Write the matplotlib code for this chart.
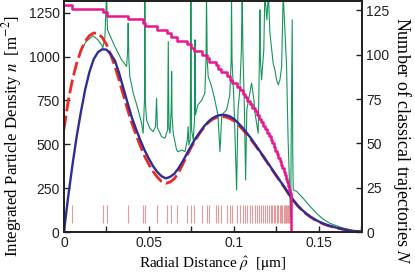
import numpy as np
import matplotlib
matplotlib.use("Agg")
import matplotlib.pyplot as plt
from matplotlib.ticker import MultipleLocator, FormatStrFormatter

plt.rcParams['mathtext.fontset'] = 'stix'
plt.rcParams['font.family'] = 'Liberation Sans'

# blue solid curve
rho_blue = [0.0, 0.0025, 0.005, 0.0075, 0.01, 0.0125, 0.015, 0.0175, 0.02, 0.0225,
            0.025, 0.0275, 0.03, 0.0325, 0.035, 0.0375, 0.04, 0.0425, 0.045, 0.0475,
            0.05, 0.0525, 0.055, 0.0575, 0.06, 0.0625, 0.065, 0.0675, 0.07, 0.0725,
            0.075, 0.0775, 0.08, 0.0825, 0.085, 0.0875, 0.09, 0.0925, 0.095, 0.0975,
            0.1, 0.1025, 0.105, 0.1075, 0.11, 0.1125, 0.115, 0.1175, 0.12, 0.1225,
            0.125, 0.1275, 0.13, 0.1325, 0.135, 0.1375, 0.14, 0.1425, 0.145, 0.1475,
            0.15, 0.1525, 0.155, 0.16, 0.165, 0.17, 0.175]
n_blue = [0, 201, 380, 544, 685, 812, 912, 985, 1025, 1042,
          1040, 1015, 977, 905, 820, 735, 652, 585, 523, 466,
          418, 375, 342, 318, 306, 315, 333, 365, 405, 450,
          494, 535, 570, 603, 630, 650, 662, 668, 667, 660,
          645, 622, 596, 566, 535, 500, 465, 430, 394, 358,
          322, 287, 253, 215, 182, 152, 127, 106, 88, 73,
          60, 49, 40, 26, 15, 7, 2]

# red dashed curve
rho_red = [0.0, 0.0025, 0.005, 0.0075, 0.01, 0.0125, 0.015, 0.0175, 0.02, 0.0225,
           0.025, 0.0275, 0.03, 0.0325, 0.035, 0.0375, 0.04, 0.0425, 0.045, 0.0475,
           0.05, 0.0525, 0.055, 0.0575, 0.06, 0.0625, 0.065, 0.0675, 0.07, 0.0725,
           0.075, 0.0775, 0.08, 0.0825, 0.085, 0.0875, 0.09, 0.0925, 0.095, 0.0975,
           0.1, 0.1025, 0.105, 0.1075, 0.11, 0.1125, 0.115, 0.1175, 0.12, 0.1225,
           0.125, 0.1275, 0.13, 0.1325, 0.135, 0.1375, 0.14, 0.1425, 0.145, 0.1475,
           0.15, 0.1525, 0.155, 0.16, 0.165, 0.17, 0.175]
n_red = [585, 745, 868, 962, 1035, 1088, 1120, 1135, 1132, 1110,
         1070, 1012, 945, 865, 780, 697, 620, 552, 490, 432,
         385, 345, 312, 288, 278, 285, 305, 340, 388, 438,
         485, 527, 565, 598, 625, 643, 654, 658, 656, 648,
         634, 612, 587, 558, 528, 495, 461, 427, 391, 355,
         320, 285, 250, 213, 180, 150, 125, 104, 86, 71,
         58, 47, 38, 24, 14, 6, 2]

# green (classical) density with caustic spikes
rho_green = [0.0094, 0.0129, 0.0171, 0.0200, 0.0222, 0.0229, 0.0241, 0.0251, 0.0256, 0.0261,
             0.0282, 0.0300, 0.0339, 0.0369, 0.0375, 0.0378, 0.0382, 0.0388, 0.0408, 0.0437,
             0.0457, 0.0466, 0.0474, 0.0476, 0.0479, 0.0486, 0.0506, 0.0525, 0.0539, 0.0545,
             0.0550, 0.0575, 0.0594, 0.0610, 0.0614, 0.0618, 0.0624, 0.0631, 0.0634, 0.0636,
             0.0643, 0.0663, 0.0672, 0.0694, 0.0712, 0.0726, 0.0731, 0.0735, 0.0743, 0.0747,
             0.0751, 0.0761, 0.0768, 0.0771, 0.0774, 0.0788, 0.0812, 0.0829, 0.0836, 0.0839,
             0.0843, 0.0849, 0.0869, 0.0888, 0.0906, 0.0918, 0.0929, 0.0957, 0.0976, 0.0984,
             0.0986, 0.0989, 0.1000, 0.1016, 0.1024, 0.1035, 0.1044, 0.1049, 0.1053, 0.1062,
             0.1069, 0.1076, 0.1104, 0.1118, 0.1124, 0.1143, 0.1150, 0.1153, 0.1156, 0.1163,
             0.1176, 0.1182, 0.1194, 0.1203, 0.1212, 0.1231, 0.1241, 0.1251, 0.1261, 0.1271,
             0.1281, 0.1290, 0.1300, 0.1310, 0.1319, 0.1329, 0.1334, 0.1338, 0.1343, 0.1346,
             0.1349, 0.1369, 0.1408, 0.1447, 0.1486, 0.1524, 0.1565, 0.1624, 0.1682, 0.1751]
n_green = [1027, 1084, 1119, 1096, 1067, 1050, 1107, 1360, 1153, 1143,
           1096, 1058, 982, 944, 1039, 1191, 982, 886, 792, 696,
           620, 563, 753, 1360, 753, 639, 592, 572, 601, 763,
           594, 544, 535, 582, 1086, 594, 563, 696, 915, 668,
           563, 468, 458, 468, 458, 525, 601, 497, 525, 1360,
           582, 525, 639, 1096, 668, 725, 753, 792, 982, 1360,
           982, 886, 829, 753, 668, 458, 668, 696, 782, 982,
           1360, 982, 753, 240, 696, 810, 1039, 1360, 1039, 696,
           297, 696, 849, 753, 679, 563, 982, 1267, 982, 868,
           1039, 1360, 1210, 1360, 1134, 963, 925, 868, 839, 868,
           944, 1360, 1153, 944, 525, 221, 87, 639, 1210, 468,
           240, 232, 192, 148, 107, 74, 50, 29, 11, 2]

# classical turning points (rug) and trajectory count N
turning = [0.0045, 0.0228, 0.0251, 0.0378, 0.0466, 0.0478, 0.0545, 0.0608, 0.0629, 0.0668,
           0.0722, 0.0745, 0.0765, 0.0814, 0.0843, 0.0853, 0.0892, 0.0908, 0.0922, 0.0961,
           0.0976, 0.0990, 0.1019, 0.1034, 0.1051, 0.1065, 0.1078, 0.1092, 0.1108, 0.1124,
           0.1135, 0.1147, 0.1159, 0.1172, 0.1182, 0.1194, 0.1206, 0.1216, 0.1225, 0.1235,
           0.1243, 0.1253, 0.1262, 0.1270, 0.1278, 0.1285, 0.1292, 0.1299, 0.1305, 0.1311,
           0.1317, 0.1323, 0.1329]
rho_step = [0.0] + turning + [0.1336, 0.175]
n_traj = [128, 126, 124, 122, 120, 118, 116, 114, 112, 110, 108,
          106, 104, 102, 100, 98, 96, 94, 92, 90, 88,
          86, 84, 82, 80, 78, 76, 74, 72, 70, 68,
          66, 64, 62, 60, 58, 56, 54, 52, 50, 48,
          46, 44, 42, 40, 38, 36, 34, 32, 30, 28,
          26, 24, 22, 0, 0]

fig = plt.figure(figsize=(4.15, 2.74), dpi=100)
ax = fig.add_axes([0.154, 0.153, 0.718, 0.842])
ax2 = ax.twinx()

ax.vlines(turning, 50, 155, color='#e39a9a', lw=0.8)
ax.plot(rho_green, n_green, color='#14965a', lw=0.8)
ax.plot(rho_red, n_red, color='#ee2a24', lw=2.0, dashes=(5, 1.6))
ax.plot(rho_blue, n_blue, color='#2e2e95', lw=1.7)
ax2.step(rho_step, n_traj, where='post', color='#e8178f', lw=1.8)

ax.set_xlim(0, 0.1753)
ax.set_ylim(0, 1315)
ax2.set_ylim(0, 130.1)

ax.xaxis.set_major_locator(MultipleLocator(0.05))
ax.xaxis.set_minor_locator(MultipleLocator(0.025))
ax.xaxis.set_major_formatter(FormatStrFormatter('%g'))
ax.yaxis.set_major_locator(MultipleLocator(250))
ax2.yaxis.set_major_locator(MultipleLocator(25))

for a in (ax, ax2):
    a.tick_params(which='both', direction='in', length=4, width=1, labelsize=10,
                  colors='#222222', pad=3)
    for s in a.spines.values():
        s.set_linewidth(1.3)
        s.set_color('#222222')
ax.tick_params(axis='y', right=False)
ax2.tick_params(axis='y', left=False)

ax.set_xlabel(r'Radial Distance $\hat{\rho}$  [$\mathrm{\mu}$m]', family='Liberation Serif',
              fontsize=11, labelpad=3)
ax.set_ylabel(r'Integrated Particle Density $n$  [m$^{-2}$]', family='Liberation Serif',
              fontsize=12.2)
ax.yaxis.set_label_coords(-0.133, 0.415)
ax2.set_ylabel(r'Number of classical trajectories $N$', family='Liberation Serif',
               fontsize=13, rotation=270)
ax2.yaxis.label.set_verticalalignment('bottom')
ax2.yaxis.set_label_coords(1.097, 0.395)

fig.savefig('out.png', dpi=100)
